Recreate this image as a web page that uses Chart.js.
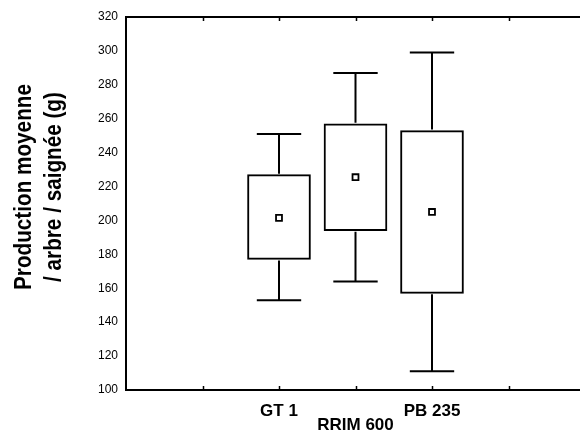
<!DOCTYPE html>
<html><head><meta charset="utf-8">
<script src="https://cdn.jsdelivr.net/npm/chart.js@4"></script>
<style>
html,body{margin:0;padding:0;background:#fff;overflow:hidden;width:580px;height:431px}
#wrap{width:600px;height:431px;position:relative}
</style></head>
<body><div id="wrap"><canvas id="c" width="600" height="431"></canvas></div>
<script>
const categories = ['GT 1', 'RRIM 600', 'PB 235'];
const positions = [2, 3, 4];
const whiskerLow = [153, 164, 111];
const boxLow = [177, 194, 157];
const means = [201.5, 225.5, 205];
const boxHigh = [227, 257, 253];
const whiskerHigh = [251, 287, 299];
const yMin = 100, yMax = 320, yStep = 20;
const yTitle = ['Production moyenne', '/ arbre / saignée (g)'];

const FONT = "'Liberation Sans', Arial, sans-serif";

const framePlugin = {
  id: 'frame',
  afterDatasetsDraw(chart) {
    const ctx = chart.ctx, xs = chart.scales.x, ys = chart.scales.y, a = chart.chartArea;
    ctx.save();
    ctx.strokeStyle = '#000';
    ctx.lineWidth = 2;
    const capHalf = 0.29;
    positions.forEach((p, i) => {
      const x = xs.getPixelForValue(p);
      const xl = xs.getPixelForValue(p - capHalf), xr = xs.getPixelForValue(p + capHalf);
      const yH = ys.getPixelForValue(whiskerHigh[i]), yQ3 = ys.getPixelForValue(boxHigh[i]);
      const yL = ys.getPixelForValue(whiskerLow[i]), yQ1 = ys.getPixelForValue(boxLow[i]);
      ctx.beginPath();
      ctx.moveTo(x, yH); ctx.lineTo(x, yQ3 - 1);
      ctx.moveTo(x, yQ1 + 1); ctx.lineTo(x, yL);
      ctx.moveTo(xl, yH); ctx.lineTo(xr, yH);
      ctx.moveTo(xl, yL); ctx.lineTo(xr, yL);
      ctx.stroke();
    });
    ctx.lineWidth = 2;
    ctx.beginPath();
    ctx.moveTo(a.left, a.top); ctx.lineTo(a.right, a.top);
    ctx.stroke();
    ctx.lineWidth = 1.5;
    ctx.beginPath();
    for (let v = xs.min + 1; v < xs.max; v++) {
      const x = Math.round(xs.getPixelForValue(v)) + 0.5;
      ctx.moveTo(x, a.bottom); ctx.lineTo(x, a.bottom - 4);
      ctx.moveTo(x, a.top); ctx.lineTo(x, a.top + 4);
    }
    ctx.stroke();
    ctx.restore();
  },
  afterDraw(chart) {
    const ctx = chart.ctx;
    ctx.save();
    ctx.fillStyle = '#000';
    ctx.font = "bold 23px " + FONT;
    ctx.textAlign = 'center';
    ctx.textBaseline = 'alphabetic';
    ctx.translate(0, 187);
    ctx.rotate(-Math.PI / 2);
    ctx.scale(0.9, 1);
    yTitle.forEach((t, i) => ctx.fillText(t, 0, 31 + i * 30));
    ctx.restore();
  }
};

new Chart(document.getElementById('c'), {
  type: 'bar',
  data: {
    datasets: [
      {
        type: 'line',
        data: positions.map((x, i) => ({ x, y: means[i] })),
        showLine: false,
        pointStyle: 'rect',
        pointRadius: 4.2,
        pointBackgroundColor: '#fff',
        pointBorderColor: '#000',
        pointBorderWidth: 1.8,
        order: 0
      },
      {
        type: 'bar',
        data: positions.map((x, i) => ({ x, y: [boxLow[i], boxHigh[i]] })),
        backgroundColor: '#fff',
        borderColor: '#000',
        borderWidth: 2,
        borderSkipped: false,
        barThickness: 63,
        grouped: false,
        order: 1
      }
    ]
  },
  options: {
    responsive: false,
    devicePixelRatio: 1,
    animation: false,
    layout: { padding: { top: 17, right: 12, left: 0, bottom: 0 } },
    plugins: { legend: { display: false }, tooltip: { enabled: false } },
    scales: {
      x: {
        type: 'linear',
        min: 0, max: 6,
        offset: false,
        grid: { display: false, drawTicks: false, offset: false },
        border: { display: true, color: '#000', width: 2 },
        afterFit(s) { s.height = 41; },
        ticks: {
          stepSize: 1,
          autoSkip: false,
          maxRotation: 0,
          padding: 15,
          color: '#000',
          font: { family: FONT, size: 17, weight: 'bold', lineHeight: '13.5px' },
          callback(v) {
            const i = positions.indexOf(v);
            if (i < 0) return '';
            return i % 2 === 1 ? ['', categories[i]] : categories[i];
          }
        }
      },
      y: {
        min: yMin, max: yMax,
        grid: { display: false, drawTicks: false },
        border: { display: true, color: '#000', width: 2 },
        afterFit(s) { s.width = 126; },
        ticks: {
          stepSize: yStep,
          padding: 8,
          color: '#000',
          font: { family: FONT, size: 12 }
        }
      }
    }
  },
  plugins: [framePlugin]
});
</script>
</body></html>
